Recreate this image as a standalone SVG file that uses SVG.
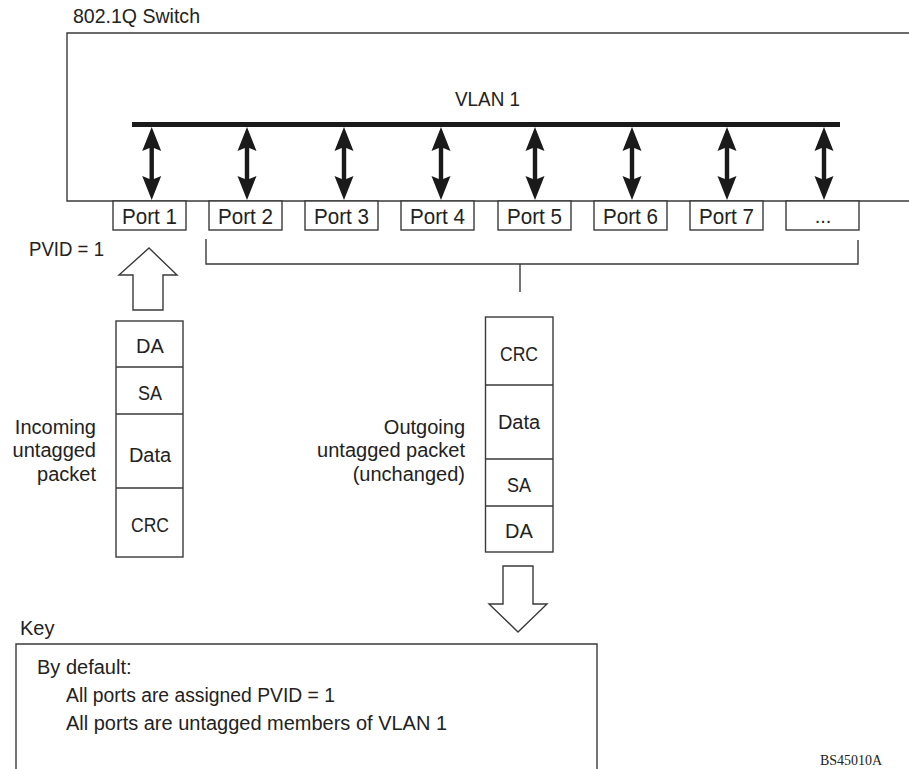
<svg xmlns="http://www.w3.org/2000/svg" width="909" height="769" viewBox="0 0 909 769">
<style>
text{font-family:"Liberation Sans",Arial,sans-serif;font-size:20px;fill:#222}
.box{fill:#fff;stroke:#3a3a3a;stroke-width:1.4}
.ln{fill:none;stroke:#3a3a3a;stroke-width:1.4}
.mid{text-anchor:middle}
.end{text-anchor:end}
.port{font-size:22px}
.big{font-size:21px}
.dbl{fill:#1a1a1a;stroke:none}
.hollow{fill:#fff;stroke:#3a3a3a;stroke-width:1.4;stroke-linejoin:miter}
</style>
<defs>
<path id="dblarrow" d="M0,127 L9.5,151 L2.2,148 L2.2,179 L9.5,176 L0,200 L-9.5,176 L-2.2,179 L-2.2,148 L-9.5,151 Z"/>
</defs>
<rect width="909" height="769" fill="#fff"/>

<g id="switch">
<text class="big" x="73" y="23" textLength="127" lengthAdjust="spacingAndGlyphs">802.1Q Switch</text>
<path class="ln" d="M915,33 H67 V201 H915"/>
</g>

<g id="vlan1">
<text class="big" x="455" y="106" textLength="65" lengthAdjust="spacingAndGlyphs">VLAN 1</text>
<rect x="132" y="122" width="708" height="5" fill="#1a1a1a"/>
</g>

<g id="port1"><rect class="box" x="113" y="201" width="73" height="29"/><text class="port" x="122" y="223.5" textLength="55" lengthAdjust="spacingAndGlyphs">Port 1</text></g>
<g id="port2"><rect class="box" x="209" y="201" width="73" height="29"/><text class="port" x="218" y="223.5" textLength="55" lengthAdjust="spacingAndGlyphs">Port 2</text></g>
<g id="port3"><rect class="box" x="305" y="201" width="73" height="29"/><text class="port" x="314" y="223.5" textLength="55" lengthAdjust="spacingAndGlyphs">Port 3</text></g>
<g id="port4"><rect class="box" x="401" y="201" width="73" height="29"/><text class="port" x="410" y="223.5" textLength="55" lengthAdjust="spacingAndGlyphs">Port 4</text></g>
<g id="port5"><rect class="box" x="498" y="201" width="73" height="29"/><text class="port" x="507" y="223.5" textLength="55" lengthAdjust="spacingAndGlyphs">Port 5</text></g>
<g id="port6"><rect class="box" x="594" y="201" width="73" height="29"/><text class="port" x="603" y="223.5" textLength="55" lengthAdjust="spacingAndGlyphs">Port 6</text></g>
<g id="port7"><rect class="box" x="690" y="201" width="73" height="29"/><text class="port" x="699" y="223.5" textLength="55" lengthAdjust="spacingAndGlyphs">Port 7</text></g>
<g id="port8"><rect class="box" x="786" y="201" width="73" height="29"/><text class="mid" x="823" y="223" font-size="16">...</text></g>

<g id="pvid">
<text class="big" x="29" y="256" textLength="75" lengthAdjust="spacingAndGlyphs">PVID = 1</text>
</g>

<g id="incoming">
<text class="end" x="96" y="434">Incoming</text>
<text class="end" x="96" y="457">untagged</text>
<text class="end" x="96" y="481">packet</text>
<rect class="box" x="116" y="321" width="67" height="236"/>
<path class="ln" d="M116,367 H183 M116,414 H183 M116,488 H183"/>
<text class="mid" x="150" y="353">DA</text>
<text class="mid" x="150" y="400" textLength="24" lengthAdjust="spacingAndGlyphs">SA</text>
<text class="mid" x="150" y="462">Data</text>
<text class="mid" x="150" y="532" textLength="38" lengthAdjust="spacingAndGlyphs">CRC</text>
</g>

<g id="outgoing">
<text class="end" x="465" y="434">Outgoing</text>
<text class="end" x="465" y="457">untagged packet</text>
<text class="end" x="465" y="481">(unchanged)</text>
<rect class="box" x="485.5" y="317" width="67.5" height="235"/>
<path class="ln" d="M485.5,385 H553 M485.5,459 H553 M485.5,506 H553"/>
<text class="mid" x="519" y="361" textLength="38" lengthAdjust="spacingAndGlyphs">CRC</text>
<text class="mid" x="519" y="429">Data</text>
<text class="mid" x="519" y="492" textLength="24" lengthAdjust="spacingAndGlyphs">SA</text>
<text class="mid" x="519" y="538">DA</text>
</g>

<g id="key">
<text x="20" y="635">Key</text>
<path class="ln" d="M16,775 V644 H597 V775"/>
<text x="37" y="674">By default:</text>
<text x="66" y="702" textLength="269" lengthAdjust="spacingAndGlyphs">All ports are assigned PVID = 1</text>
<text x="66" y="730" textLength="381" lengthAdjust="spacingAndGlyphs">All ports are untagged members of VLAN 1</text>
</g>

<g id="figid">
<text x="820" y="765" style="font-family:'Liberation Serif','Times New Roman',serif;font-size:14px">BS45010A</text>
</g>

<g id="connectors">
<use href="#dblarrow" class="dbl" x="151.7"/>
<use href="#dblarrow" class="dbl" x="247"/>
<use href="#dblarrow" class="dbl" x="344"/>
<use href="#dblarrow" class="dbl" x="441"/>
<use href="#dblarrow" class="dbl" x="535"/>
<use href="#dblarrow" class="dbl" x="632"/>
<use href="#dblarrow" class="dbl" x="727"/>
<use href="#dblarrow" class="dbl" x="824"/>
<path class="ln" d="M206,239 V264 H858 V240 M520,264 V292"/>
<polygon class="hollow" points="149,248 177,275 163,275 163,310 133,310 133,275 119,275"/>
<polygon class="hollow" points="503,566 533,566 533,604 547,604 518,632 489,604 503,604"/>
</g>
</svg>
